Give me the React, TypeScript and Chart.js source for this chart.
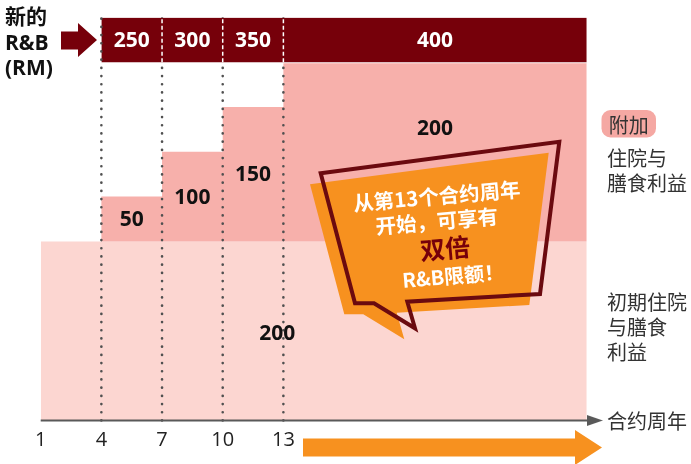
import { useEffect, useRef } from "react";
import { Chart, registerables } from "chart.js";

Chart.register(...registerables);

// ---- data ----
const segmentStarts = [1, 4, 7, 10, 13];
const contractEnd = 28;
const baseBenefit = 200;
const extraBenefit = [0, 50, 100, 150, 200];
const newRBYears = [4, 7, 10, 13];
const newRB = [250, 300, 350, 400];
const tickYears = [1, 4, 7, 10, 13];
const dividerYears = [4, 7, 10, 13];

const LATIN = "'Open Sans', 'Noto Sans CJK SC', sans-serif";
const CJK = "'Noto Sans CJK SC', 'Open Sans', sans-serif";

export default function App() {
  const ref = useRef<HTMLCanvasElement>(null);

  useEffect(() => {
    const canvas = ref.current;
    if (!canvas) return;

    const bandLow = 400;
    const bandHigh = 450;
    const axisEnd = 28.4;

    const xsAll = [...segmentStarts, contractEnd];
    const basePts = xsAll.map((x) => ({ x, y: baseBenefit }));
    const extraPts = xsAll.map((x, i) => ({
      x,
      y: baseBenefit + extraBenefit[Math.min(i, extraBenefit.length - 1)],
    }));
    const bandLowPts = [
      { x: newRBYears[0], y: bandLow },
      { x: contractEnd, y: bandLow },
    ];
    const bandHighPts = [
      { x: newRBYears[0], y: bandHigh },
      { x: contractEnd, y: bandHigh },
    ];

    const head = document.createElement("canvas");
    head.width = 16;
    head.height = 11;
    const hc = head.getContext("2d")!;
    hc.fillStyle = "#595959";
    hc.beginPath();
    hc.moveTo(0, 0);
    hc.lineTo(16, 5.5);
    hc.lineTo(0, 11);
    hc.closePath();
    hc.fill();

    const common = { pointRadius: 0, clip: false as const, tension: 0 };

    const datasets: any[] = [
      {
        ...common,
        label: "base",
        data: basePts,
        borderWidth: 0,
        backgroundColor: "#fcd6d1",
        fill: "origin",
        order: 10,
      },
      {
        ...common,
        label: "extra",
        data: extraPts,
        stepped: "before",
        borderWidth: 0,
        backgroundColor: "#f7b0ab",
        fill: "-1",
        order: 9,
      },
      {
        ...common,
        label: "bandLow",
        data: bandLowPts,
        borderWidth: 2,
        borderColor: "#ffffff",
        fill: false,
        order: 6,
      },
      {
        ...common,
        label: "bandHigh",
        data: bandHighPts,
        borderWidth: 0,
        backgroundColor: "#76000a",
        fill: "-1",
        order: 5,
      },
    ];

    dividerYears.forEach((yr, i) => {
      datasets.push({
        ...common,
        label: "dots" + yr,
        data: [
          { x: yr, y: 0 },
          { x: yr, y: bandHigh },
        ],
        borderColor: "#505050",
        borderWidth: 2.6,
        borderDash: [0.1, 8.1],
        borderCapStyle: "round",
        fill: false,
        order: i === 0 ? 3 : 8,
      });
    });

    newRBYears.slice(1).forEach((yr) => {
      datasets.push({
        ...common,
        label: "sep" + yr,
        data: [
          { x: yr, y: bandLow },
          { x: yr, y: bandHigh },
        ],
        borderColor: "#ffffff",
        borderWidth: 1.5,
        borderDash: [4, 2.5],
        fill: false,
        order: 2,
      });
    });

    datasets.push({
      label: "axis",
      data: [
        { x: segmentStarts[0], y: 0 },
        { x: axisEnd, y: 0 },
      ],
      borderColor: "#595959",
      borderWidth: 2,
      pointRadius: [0, 6],
      pointStyle: head,
      pointBorderWidth: 0,
      fill: false,
      clip: false,
      order: 1,
    });

    const labelPlugin = {
      id: "valueLabels",
      afterDatasetsDraw(chart: any) {
        const { ctx } = chart;
        const xs = chart.scales.x;
        const ys = chart.scales.y;
        ctx.save();
        ctx.textAlign = "center";
        ctx.textBaseline = "middle";
        ctx.font = `bold 21px ${LATIN}`;
        ctx.fillStyle = "#ffffff";
        newRBYears.forEach((yr, i) => {
          const end = newRBYears[i + 1] ?? contractEnd;
          ctx.fillText(
            String(newRB[i]),
            xs.getPixelForValue((yr + end) / 2),
            ys.getPixelForValue((bandLow + bandHigh) / 2) + 1
          );
        });
        ctx.fillStyle = "#111111";
        extraBenefit.forEach((v, i) => {
          if (!v) return;
          const start = segmentStarts[i];
          const end = segmentStarts[i + 1] ?? contractEnd;
          const last = i === extraBenefit.length - 1;
          const yv = baseBenefit + (last ? v - 73 : v / 2);
          ctx.fillText(
            String(v),
            xs.getPixelForValue((start + end) / 2),
            ys.getPixelForValue(yv) + 1
          );
        });
        ctx.fillText(
          String(baseBenefit),
          xs.getPixelForValue(12.7),
          ys.getPixelForValue(98) + 1
        );
        ctx.restore();
      },
    };

    const chart = new Chart(canvas, {
      type: "line",
      data: { datasets },
      options: {
        responsive: false,
        animation: false,
        events: [],
        layout: { padding: { left: 40.7, right: 89.1, top: 17.5, bottom: 0 } },
        plugins: {
          legend: { display: false },
          tooltip: { enabled: false },
        },
        scales: {
          x: {
            type: "linear",
            min: 1,
            max: 28.75,
            grid: { display: false, drawTicks: false },
            border: { display: false },
            afterBuildTicks: (scale: any) => {
              scale.ticks = tickYears.map((v) => ({ value: v }));
            },
            afterFit: (scale: any) => {
              scale.height = 43.5;
            },
            ticks: {
              autoSkip: false,
              maxRotation: 0,
              padding: 8,
              color: "#222222",
              font: { family: LATIN, size: 20 },
              callback: (v: any) => String(v),
            },
          },
          y: {
            type: "linear",
            min: 0,
            max: 450,
            display: false,
          },
        },
      },
      plugins: [labelPlugin],
    });

    return () => chart.destroy();
  }, []);

  const bubbleOutline =
    "320.7,173.3 559.3,141.7 540,294 407.3,301.7 415,328.3 374,303.3 355,303.3";
  const bubbleFill =
    "310,184.3 548.7,152.7 529.3,305 396.7,312.7 404.3,339.3 363.3,314.3 344.3,314.3";

  return (
    <div style={{ position: "absolute", left: 0, top: 0, width: 691, height: 464 }}>
      <canvas
        ref={ref}
        width={691}
        height={464}
        style={{ position: "absolute", left: 0, top: 0, width: 691, height: 464 }}
      />
      <svg
        width={691}
        height={464}
        style={{ position: "absolute", left: 0, top: 0, pointerEvents: "none" }}
      >
        {/* left label */}
        <g fontFamily={LATIN} fontWeight="bold" fontSize={21} fill="#111">
          <text x={5} y={15} dominantBaseline="central" fontFamily={CJK}>
            新的
          </text>
          <text x={5} y={41.5} dominantBaseline="central">
            {"R&B"}
          </text>
          <text x={5} y={66.5} dominantBaseline="central">
            (RM)
          </text>
        </g>
        <polygon
          points="61,31.5 78,31.5 78,23 97,40 78,57 78,49.5 61,49.5"
          fill="#76000a"
        />

        {/* right labels */}
        <rect x={601.5} y={110} width={54.5} height={27.5} rx={9} fill="#f5a8a3" />
        <g fontFamily={CJK} fontSize={20} fill="#333">
          <text x={628.7} y={124} textAnchor="middle" dominantBaseline="central">
            附加
          </text>
          <text x={607} y={157.5} dominantBaseline="central">
            住院与
          </text>
          <text x={607} y={182} dominantBaseline="central">
            膳食利益
          </text>
          <text x={607} y={301.5} dominantBaseline="central">
            初期住院
          </text>
          <text x={607} y={326.5} dominantBaseline="central">
            与膳食
          </text>
          <text x={607} y={351.5} dominantBaseline="central">
            利益
          </text>
          <text x={607} y={420} dominantBaseline="central">
            合约周年
          </text>
        </g>

        {/* speech bubble */}
        <polygon points={bubbleFill} fill="#f7911f" />
        <polygon
          points={bubbleOutline}
          fill="none"
          stroke="#6b0a0f"
          strokeWidth={4}
          strokeLinejoin="miter"
        />
        <g fontFamily={CJK} fontWeight="bold" textAnchor="middle">
          <text
            x={436.7}
            y={195}
            fontSize={20.5}
            fill="#fff"
            dominantBaseline="central"
            transform="rotate(-5 436.7 195)"
          >
            从第13个合约周年
          </text>
          <text
            x={436.7}
            y={220}
            fontSize={20.5}
            fill="#fff"
            dominantBaseline="central"
            transform="rotate(-5 436.7 220)"
          >
            开始，可享有
          </text>
          <text
            x={445}
            y={247}
            fontSize={25}
            fill="#76000a"
            dominantBaseline="central"
            transform="rotate(-5 445 247)"
          >
            双倍
          </text>
          <text
            x={453}
            y={275}
            fontSize={20}
            fill="#fff"
            dominantBaseline="central"
            transform="rotate(-5 453 275)"
          >
            {"R&B限额！"}
          </text>
        </g>

        {/* bottom orange arrow */}
        <polygon
          points="303,438.5 575,438.5 575,430 602,447.5 575,465 575,456.5 303,456.5"
          fill="#f7911f"
        />
      </svg>
    </div>
  );
}
